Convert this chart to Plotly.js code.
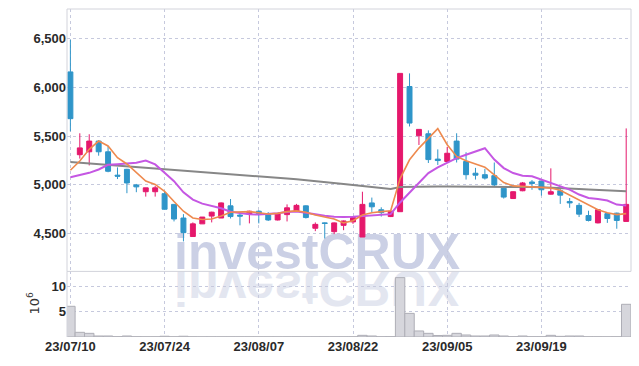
<!DOCTYPE html>
<html>
<head>
<meta charset="utf-8">
<script src="https://cdn.plot.ly/plotly-3.0.1.min.js"></script>
<style>
html,body{margin:0;padding:0;background:#fff;}
#chart{width:639px;height:366px;}
</style>
</head>
<body>
<div id="chart"></div>
<script>
// Trading days (YY/MM/DD)
const dates = ["23/07/10","23/07/11","23/07/12","23/07/13","23/07/14","23/07/17","23/07/18","23/07/19","23/07/20","23/07/21",
"23/07/24","23/07/25","23/07/26","23/07/27","23/07/28","23/07/31","23/08/01","23/08/02","23/08/03","23/08/04",
"23/08/07","23/08/08","23/08/09","23/08/10","23/08/11","23/08/14","23/08/16","23/08/17","23/08/18","23/08/21",
"23/08/22","23/08/23","23/08/24","23/08/25","23/08/28","23/08/29","23/08/30","23/08/31","23/09/01","23/09/04",
"23/09/05","23/09/06","23/09/07","23/09/08","23/09/11","23/09/12","23/09/13","23/09/14","23/09/15","23/09/18",
"23/09/19","23/09/20","23/09/21","23/09/22","23/09/25","23/09/26","23/09/27","23/10/04","23/10/05","23/10/06"];

const openP = [6160,5310,5340,5450,5340,5100,5160,5000,4930,4930,
4910,4800,4660,4470,4600,4680,4660,4785,4690,4700,
4730,4695,4640,4695,4730,4785,4555,4610,4520,4585,
4620,4465,4815,4745,4675,4725,6010,5505,5525,5265,
5240,5450,5240,5120,5105,5095,4965,4860,4940,5030,
5040,4905,4940,4830,4790,4685,4610,4705,4710,4625];
const highP = [6490,5530,5520,5460,5400,5180,5165,5010,4970,4990,
4930,4800,4700,4615,4670,4725,4820,4855,4720,4735,
4740,4720,4710,4800,4805,4790,4615,4615,4615,4635,
4670,4930,4870,4770,4735,6145,6145,5570,5560,5365,
5390,5530,5335,5175,5165,5230,4970,4935,5030,5050,
5045,5170,4970,4865,4815,4735,4750,4710,4715,5580];
const lowP = [5550,5270,5200,5300,5130,5060,4915,4925,4880,4880,
4750,4625,4420,4470,4600,4615,4660,4655,4585,4605,
4605,4630,4635,4625,4725,4655,4525,4450,4495,4535,
4600,4465,4720,4675,4670,4725,5600,5410,5225,5205,
5240,5230,5055,5055,5055,4985,4860,4855,4935,4950,
4890,4900,4805,4765,4670,4625,4605,4610,4550,4625];
const closeP = [5680,5380,5450,5340,5140,5090,5020,4980,4970,4970,
4750,4650,4510,4600,4670,4720,4815,4675,4680,4730,
4705,4640,4705,4765,4790,4665,4595,4605,4610,4630,
4665,4800,4775,4715,4730,6145,5635,5570,5260,5250,
5325,5265,5105,5100,5070,5000,4875,4930,5020,5015,
4950,4930,4895,4815,4700,4635,4745,4655,4635,4800];

// Moving averages
const ma5 = [5150,5245,5365,5450,5400,5280,5215,5125,5040,5005,
4935,4830,4730,4660,4645,4650,4680,4720,4726,4726,
4715,4702,4708,4726,4733,4719,4691,4674,4650,4610,
4632,4691,4715,4726,4735,5065,5258,5378,5482,5578,
5413,5292,5248,5217,5182,5103,5024,4990,4985,4980,
4975,4968,4945,4895,4840,4790,4745,4715,4695,4705];
const ma10 = [5079,5100,5124,5158,5206,5213,5220,5227,5250,5210,
5124,5038,4924,4849,4808,4787,4760,4725,4708,4698,
4695,4698,4708,4722,4726,4715,4698,4684,4674,4670,
4674,4681,4684,4691,4700,4820,4920,5030,5122,5180,
5231,5275,5309,5343,5377,5260,5173,5122,5095,5089,
5055,5027,4986,4952,4901,4866,4856,4839,4798,4788];
const maLong = [5234,5227,5220,5212,5205,5198,5190,5183,5176,5168,
5161,5154,5146,5139,5132,5125,5117,5109,5101,5095,
5090,5082,5074,5066,5057,5049,5040,5030,5020,5010,
5000,4990,4978,4966,4957,4978,4981,4982,4983,4983,
4983,4983,4982,4982,4982,4982,4981,4981,4980,4978,
4975,4972,4969,4963,4957,4952,4947,4943,4940,4935];

// Volume in millions of shares
const volume = [6.1,0.93,0.73,0.2,0.2,0.06,0.2,0.05,0.04,0.04,
0.15,0.04,0.15,0.04,0.03,0.03,0.03,0.03,0.03,0.03,
0.03,0.03,0.03,0.03,0.03,0.03,0.03,0.03,0.03,0.03,
0.04,0.33,0.2,0.05,0.06,11.8,4.7,1.2,0.73,0.3,
0.33,0.73,0.4,0.2,0.2,0.4,0.2,0.06,0.2,0.05,
0.05,0.33,0.13,0.2,0.2,0.04,0.04,0.03,0.04,6.5];

const tickIdx = [0,10,20,30,40,50];
const xTicks = tickIdx.map(i => dates[i]);
const priceTicks = [4500,5000,5500,6000,6500];
const volTicks = [5,10];

const PINK = '#e5186c', BLUE = '#2f95c9';
const gridC = '#c6c9dd';
const tickFont = {family:'"Liberation Sans",Arial,sans-serif', size:13, color:'#2a2a2a', weight:'bold'};

const data = [
  {type:'candlestick', x:dates, open:openP, high:highP, low:lowP, close:closeP,
   xaxis:'x', yaxis:'y', whiskerwidth:0,
   increasing:{line:{color:PINK,width:1}, fillcolor:PINK},
   decreasing:{line:{color:BLUE,width:1}, fillcolor:BLUE},
   showlegend:false, hoverinfo:'skip'},
  {type:'scatter', mode:'lines', x:dates, y:maLong, xaxis:'x', yaxis:'y',
   line:{color:'#878787', width:2}, showlegend:false, hoverinfo:'skip'},
  {type:'scatter', mode:'lines', x:dates, y:ma10, xaxis:'x', yaxis:'y',
   line:{color:'#c557e3', width:2}, showlegend:false, hoverinfo:'skip'},
  {type:'scatter', mode:'lines', x:dates, y:ma5, xaxis:'x', yaxis:'y',
   line:{color:'#ee8a4f', width:1.6}, showlegend:false, hoverinfo:'skip'},
  {type:'bar', x:dates, y:volume, xaxis:'x', yaxis:'y2',
   marker:{color:'#d6d6dc', line:{color:'#aeaeb6', width:1}},
   showlegend:false, hoverinfo:'skip'}
];

const layout = {
  width:639, height:366,
  margin:{l:67, r:8, t:9, b:29},
  paper_bgcolor:'#ffffff', plot_bgcolor:'rgba(0,0,0,0)',
  showlegend:false, boxgap:0.25, bargap:0,
  xaxis:{type:'category', anchor:'y2', range:[-0.36,59.51],
    rangeslider:{visible:false}, tickmode:'array', tickvals:xTicks, ticktext:xTicks,
    showgrid:true, gridcolor:gridC, griddash:'dot', gridwidth:1,
    ticks:'', showline:false, zeroline:false, tickfont:tickFont, fixedrange:true},
  yaxis:{domain:[0.2,1], range:[4112,6806], tickmode:'array', tickvals:priceTicks,
    tickformat:',d', showgrid:true, gridcolor:gridC, griddash:'dot', gridwidth:1,
    ticks:'', zeroline:false, showline:false, tickfont:tickFont, anchor:'x'},
  yaxis2:{domain:[0,0.2], range:[0,13.04], tickmode:'array', tickvals:volTicks,
    showgrid:true, gridcolor:gridC, griddash:'dot', gridwidth:1,
    ticks:'', zeroline:false, showline:false, tickfont:tickFont, anchor:'x'},
  shapes:[
    {type:'rect', xref:'paper', yref:'paper', x0:0, x1:1, y0:0.2, y1:1,
     line:{color:'#d2d3db', width:1}, fillcolor:'rgba(0,0,0,0)', layer:'above'},
    {type:'line', xref:'paper', yref:'paper', x0:0, x1:0, y0:0, y1:0.2,
     line:{color:'#d2d3db', width:1}, layer:'above'}
  ],
  annotations:[
    {text:'10<sup>6</sup>', xref:'paper', yref:'paper', x:-0.0603, y:0.105,
     showarrow:false, textangle:-90, font:{family:'DejaVu Sans', size:13, color:'#333'},
     xanchor:'center', yanchor:'middle'},
    {text:'investCRUX', xref:'paper', yref:'paper', x:0.443, y:0.259,
     showarrow:false, font:{family:'"Liberation Sans",sans-serif', size:50, color:'#cbd0e5', weight:'bold'},
     xanchor:'center', yanchor:'middle'}
  ]
};

Plotly.newPlot('chart', data, layout, {staticPlot:true, displayModeBar:false}).then(function(gd){
  try {
    var svg = gd.querySelector('.main-svg');
    var below = svg.querySelector('.layer-below');
    var wm = gd.querySelector('.infolayer .annotation[data-index="1"]');
    if (below && wm) {
      below.appendChild(wm);
      var txt = wm.querySelector('text');
      if (txt) {
        var base = parseFloat(txt.getAttribute('y')) || 0;
        var refl = txt.cloneNode(true);
        refl.setAttribute('transform', 'matrix(1,0,0,-1,0,' + (2*base + 2) + ')');
        refl.style.fill = '#e3e6f0';
        refl.style.fillOpacity = '1';
        txt.parentNode.insertBefore(refl, txt);
      }
    }
  } catch(e) {}
});
</script>
</body>
</html>
